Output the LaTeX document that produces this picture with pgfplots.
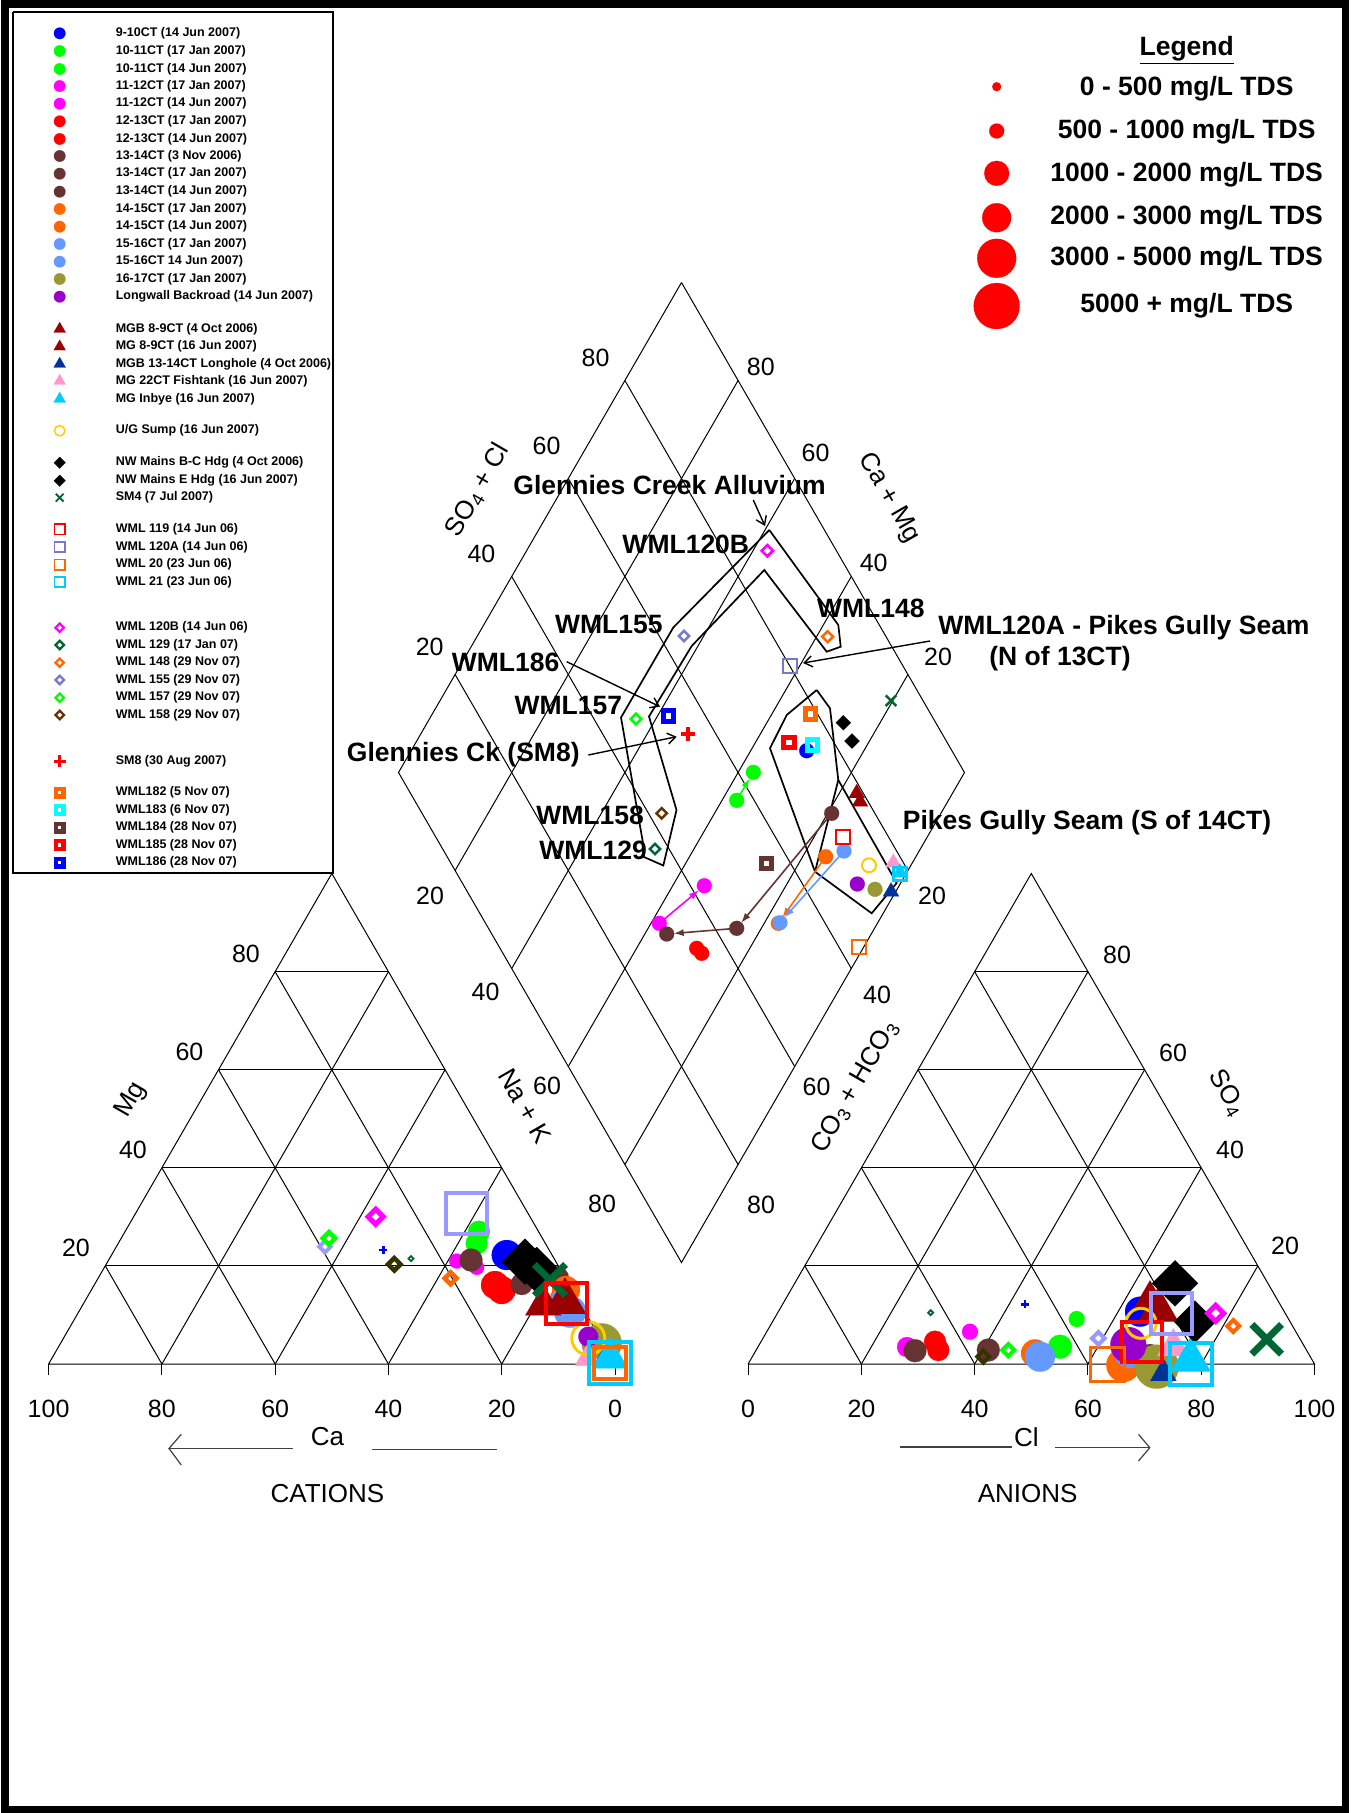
\documentclass[border=0pt]{standalone}
\usepackage{pgfplots}
\pgfplotsset{compat=1.18}
\usepackage{fontspec}
\setmainfont{Liberation Sans}
\usetikzlibrary{arrows.meta}
\definecolor{cBlue}{HTML}{0000FF}
\definecolor{cGreen}{HTML}{00FF00}
\definecolor{cMag}{HTML}{FF00FF}
\definecolor{cRed}{HTML}{FF0000}
\definecolor{cBrown}{HTML}{663333}
\definecolor{cOrange}{HTML}{FF6600}
\definecolor{cLBlue}{HTML}{6699FF}
\definecolor{cOlive}{HTML}{999933}
\definecolor{cPurple}{HTML}{9900CC}
\definecolor{cDRed}{HTML}{990000}
\definecolor{cDBlue}{HTML}{003399}
\definecolor{cPink}{HTML}{FF99CC}
\definecolor{cCyan}{HTML}{00CCFF}
\definecolor{cYellow}{HTML}{FFCC00}
\definecolor{cDGreen}{HTML}{006633}
\definecolor{cLav}{HTML}{7777CC}
\definecolor{cLav2}{HTML}{9999FF}
\definecolor{cAqua}{HTML}{00FFFF}
\definecolor{cBrownB}{HTML}{663300}
\definecolor{cDark}{HTML}{333300}
\pgfdeclareplotmark{dmd}{%
 \pgfpathmoveto{\pgfqpoint{0pt}{\pgfplotmarksize}}%
 \pgfpathlineto{\pgfqpoint{\pgfplotmarksize}{0pt}}%
 \pgfpathlineto{\pgfqpoint{0pt}{-\pgfplotmarksize}}%
 \pgfpathlineto{\pgfqpoint{-\pgfplotmarksize}{0pt}}%
 \pgfpathclose\pgfusepathqstroke}
\pgfdeclareplotmark{dmd*}{%
 \pgfpathmoveto{\pgfqpoint{0pt}{\pgfplotmarksize}}%
 \pgfpathlineto{\pgfqpoint{\pgfplotmarksize}{0pt}}%
 \pgfpathlineto{\pgfqpoint{0pt}{-\pgfplotmarksize}}%
 \pgfpathlineto{\pgfqpoint{-\pgfplotmarksize}{0pt}}%
 \pgfpathclose\pgfusepathqfillstroke}
\pgfdeclareplotmark{tri*}{%
 \pgfpathmoveto{\pgfqpoint{0pt}{1.1547\pgfplotmarksize}}%
 \pgfpathlineto{\pgfqpoint{\pgfplotmarksize}{-0.5774\pgfplotmarksize}}%
 \pgfpathlineto{\pgfqpoint{-\pgfplotmarksize}{-0.5774\pgfplotmarksize}}%
 \pgfpathclose\pgfusepathqfillstroke}
\newcommand\mk[5]{\addplot[#1,mark size=#2,mark options={line width=#3,solid}] coordinates {(#4,#5)};}
\newcommand\gseg[4]{\addplot[gl] coordinates {(#1,#2)(#3,#4)};}
\newcommand\tk{\fontsize{25}{28}\selectfont}
\newcommand\an{\fontsize{26.5}{30}\selectfont\bfseries}
\newcommand\lgf{\fontsize{12.5}{14}\selectfont\bfseries}
\newcommand\lab{\fontsize{26}{30}\selectfont}
\begin{document}
\begin{tikzpicture}
\useasboundingbox (0,0) rectangle (1356pt,1813pt);
\begin{axis}[x=1pt,y=1pt,y dir=reverse,xmin=0,xmax=1356,ymin=0,ymax=1813,
 hide axis,clip=false,at={(0pt,0pt)},anchor=south west,
 gl/.style={black,line width=1pt},
 pl/.style={black,line width=1.7pt},
 mC/.style={only marks,mark=*,color=#1},
 mT/.style={only marks,mark=tri*,color=#1},
 mS/.style={only marks,mark=square,color=#1},
 mD/.style={only marks,mark=dmd,color=#1},
 mBD/.style={only marks,mark=dmd*,color=black},
 mO/.style={only marks,mark=o,color=#1},
 mP/.style={only marks,mark=+,color=#1},
 mX/.style={only marks,mark=x,color=#1},
 ar/.style={line width=1.4pt,-{Straight Barb[length=8pt,width=11pt]}},
 car/.style={line width=1.6pt,-{Latex[length=10pt,width=7pt]},shorten >=7pt},
]
% outer frame
\addplot[black,line width=7.5pt,line join=miter] coordinates {(5,4)(1345.5,4)(1345.5,1809.5)(5,1809.5)(5,4)(200,4)};
% ---------- left triangle (cations)
\addplot[gl] coordinates {(48.6,1364)(615,1364)(331.8,873.5)(48.6,1364)};
\gseg{105.2}{1265.9}{558.4}{1265.9}
\gseg{161.9}{1167.8}{501.7}{1167.8}
\gseg{218.5}{1069.7}{445.1}{1069.7}
\gseg{275.2}{971.6}{388.4}{971.6}
\gseg{161.9}{1364}{388.5}{971.6}
\gseg{275.2}{1364}{445.1}{1069.7}
\gseg{388.4}{1364}{501.7}{1167.8}
\gseg{501.7}{1364}{558.3}{1265.9}
\gseg{161.9}{1364}{105.3}{1265.9}
\gseg{275.2}{1364}{161.9}{1167.8}
\gseg{388.4}{1364}{218.5}{1069.7}
\gseg{501.7}{1364}{275.1}{971.6}
\gseg{48.6}{1364}{48.6}{1375}
\gseg{161.9}{1364}{161.9}{1375}
\gseg{275.2}{1364}{275.2}{1375}
\gseg{388.4}{1364}{388.4}{1375}
\gseg{501.7}{1364}{501.7}{1375}
\gseg{615}{1364}{615}{1375}
% ---------- right triangle (anions)
\addplot[gl] coordinates {(748.1,1364)(1314.5,1364)(1031.3,873.5)(748.1,1364)};
\gseg{804.7}{1265.9}{1257.9}{1265.9}
\gseg{861.4}{1167.8}{1201.2}{1167.8}
\gseg{918.0}{1069.7}{1144.6}{1069.7}
\gseg{974.7}{971.6}{1087.9}{971.6}
\gseg{861.4}{1364}{1088.0}{971.6}
\gseg{974.7}{1364}{1144.6}{1069.7}
\gseg{1087.9}{1364}{1201.2}{1167.8}
\gseg{1201.2}{1364}{1257.8}{1265.9}
\gseg{861.4}{1364}{804.8}{1265.9}
\gseg{974.7}{1364}{861.4}{1167.8}
\gseg{1087.9}{1364}{918.0}{1069.7}
\gseg{1201.2}{1364}{974.6}{971.6}
\gseg{748.1}{1364}{748.1}{1375}
\gseg{861.4}{1364}{861.4}{1375}
\gseg{974.7}{1364}{974.7}{1375}
\gseg{1087.9}{1364}{1087.9}{1375}
\gseg{1201.2}{1364}{1201.2}{1375}
\gseg{1314.5}{1364}{1314.5}{1375}
% ---------- diamond
\addplot[gl] coordinates {(681.5,282.5)(964.5,772.5)(681.5,1262.5)(398.5,772.5)(681.5,282.5)};
\gseg{738.1}{380.5}{455.1}{870.5}
\gseg{794.7}{478.5}{511.7}{968.5}
\gseg{851.3}{576.5}{568.3}{1066.5}
\gseg{907.9}{674.5}{624.9}{1164.5}
\gseg{624.9}{380.5}{907.9}{870.5}
\gseg{568.3}{478.5}{851.3}{968.5}
\gseg{511.7}{576.5}{794.7}{1066.5}
\gseg{455.1}{674.5}{738.1}{1164.5}
% field outlines
\addplot[pl] coordinates {(769.3,530)(838.3,625)(840.7,646.7)(826.7,651.7)(764.3,570)(691.7,646)(649,716.5)(676.5,810)(663.3,865.5)(644,857)(643,843)(621,717.5)(673.3,627.5)(769.3,530)};
\addplot[pl] coordinates {(816.7,690)(830,708.3)(838.3,780)(896.7,883)(871.7,913.3)(815,871.7)(770,748.3)(786.7,715)(816.7,690)};
\addplot[pl] coordinates {(838.3,780)(815,871.7)};
% legend box
\addplot[black,line width=2pt,fill=white] coordinates {(12.7,11.7)(333,11.7)(333,873)(12.7,873)(12.7,11.7)};
% ---------- arrows between samples (diamond)
\addplot[cGreen,car] coordinates {(736.7,800.3)(753.3,772.3)};
\addplot[cMag,car] coordinates {(659.3,923.3)(704.3,885.7)};
\addplot[cBrown,car] coordinates {(831.7,813.3)(736.7,928.3)};
\addplot[cBrown,car] coordinates {(736.7,928.3)(666.7,934)};
\addplot[cOrange,car] coordinates {(825.7,856.7)(778.3,923.3)};
\addplot[cLBlue,car] coordinates {(844,851)(780,922.7)};
% ---------- samples: diamond / cations / anions
% 9-10CT
\mk{mC=cBlue}{7.5}{0.1pt}{806.7}{750.7}
\mk{mC=cBlue}{15}{0.1pt}{506.7}{1255}
\mk{mC=cBlue}{15}{0.1pt}{1140}{1311.7}
% 10-11CT Jan
\mk{mC=cGreen}{7.5}{0.1pt}{736.7}{800.3}
\mk{mC=cGreen}{11}{0.1pt}{476.7}{1243.3}
\mk{mC=cGreen}{12}{0.1pt}{1060}{1346.7}
% 10-11CT Jun
\mk{mC=cGreen}{7.5}{0.1pt}{753.3}{772.3}
\mk{mC=cGreen}{11}{0.1pt}{479}{1231.7}
\mk{mC=cGreen}{8}{0.1pt}{1076.7}{1319}
% 11-12CT Jan
\mk{mC=cMag}{7.5}{0.1pt}{659.3}{923.3}
\mk{mC=cMag}{7.5}{0.1pt}{456.7}{1261}
\mk{mC=cMag}{8}{0.1pt}{970}{1331.7}
% 11-12CT Jun
\mk{mC=cMag}{7.5}{0.1pt}{704.3}{885.7}
\mk{mC=cMag}{7.5}{0.1pt}{476.7}{1267.3}
\mk{mC=cMag}{10}{0.1pt}{907}{1347}
% 12-13CT Jan
\mk{mC=cRed}{7.5}{0.1pt}{696.7}{948.3}
\mk{mC=cRed}{14}{0.1pt}{495}{1285}
\mk{mC=cRed}{11}{0.1pt}{935}{1341.7}
% 12-13CT Jun
\mk{mC=cRed}{7.5}{0.1pt}{701.7}{953.3}
\mk{mC=cRed}{14}{0.1pt}{501.7}{1290}
\mk{mC=cRed}{11}{0.1pt}{938.3}{1350}
% 13-14CT Nov
\mk{mC=cBrown}{7.5}{0.1pt}{831.7}{813.3}
\mk{mC=cBrown}{11}{0.1pt}{558}{1278}
\mk{mC=cBrown}{11}{0.1pt}{1150}{1355}
% 13-14CT Jan
\mk{mC=cBrown}{7.5}{0.1pt}{736.7}{928.3}
\mk{mC=cBrown}{11}{0.1pt}{521.7}{1284}
\mk{mC=cBrown}{11.5}{0.1pt}{915}{1350.7}
% 13-14CT Jun
\mk{mC=cBrown}{7.5}{0.1pt}{666.7}{934}
\mk{mC=cBrown}{11.5}{0.1pt}{471}{1260}
\mk{mC=cBrown}{11.5}{0.1pt}{988.3}{1350}
% 14-15CT Jan
\mk{mC=cOrange}{7.5}{0.1pt}{825.7}{856.7}
\mk{mC=cOrange}{14}{0.1pt}{566}{1290}
\mk{mC=cOrange}{17}{0.1pt}{1123.3}{1365}
% 14-15CT Jun
\mk{mC=cOrange}{7.5}{0.1pt}{778.3}{923.3}
\mk{mC=cOrange}{10}{0.1pt}{560}{1298}
\mk{mC=cOrange}{14}{0.1pt}{1035}{1353.3}
% 15-16CT Jan
\mk{mC=cLBlue}{7.5}{0.1pt}{844}{851}
\mk{mC=cLBlue}{16}{0.1pt}{570}{1311.7}
\mk{mC=cLBlue}{16}{0.1pt}{1130}{1352}
% 15-16CT Jun
\mk{mC=cLBlue}{7.5}{0.1pt}{780}{922.7}
\mk{mC=cLBlue}{12}{0.1pt}{563}{1300}
\mk{mC=cLBlue}{15}{0.1pt}{1040}{1356.7}
% 16-17CT
\mk{mC=cOlive}{7.5}{0.1pt}{875}{889.3}
\mk{mC=cOlive}{20}{0.1pt}{601.7}{1343.3}
\mk{mC=cOlive}{22}{0.1pt}{1156.7}{1366.7}
% Longwall Backroad
\mk{mC=cPurple}{7.5}{0.1pt}{857.3}{884}
\mk{mC=cPurple}{10}{0.1pt}{588.3}{1336.7}
\mk{mC=cPurple}{18}{0.1pt}{1128.3}{1345}
% MGB 8-9CT
\mk{mT=cDRed}{8}{0.1pt}{856.7}{793.3}
\mk{mT=cDRed}{21}{0.1pt}{565}{1301.7}
\mk{mT=cDRed}{20}{0.1pt}{1158.3}{1310}
% MG 8-9CT
\mk{mT=cDRed}{8}{0.1pt}{860}{801.7}
\mk{mT=cDRed}{18}{0.1pt}{543.3}{1305}
\mk{mT=cDRed}{17}{0.1pt}{1150}{1300}
% MGB 13-14CT Longhole
\mk{mT=cDBlue}{8}{0.1pt}{891}{891.7}
\mk{mT=cDBlue}{13}{0.1pt}{605}{1360}
\mk{mT=cDBlue}{13}{0.1pt}{1163.3}{1373.3}
% MG 22CT Fishtank
\mk{mT=cPink}{8}{0.1pt}{893.3}{862.7}
\mk{mT=cPink}{13}{0.1pt}{588}{1358}
\mk{mT=cPink}{16}{0.1pt}{1173.3}{1346.7}
% MG Inbye
\mk{mT=cCyan}{8}{0.1pt}{900}{872.7}
\mk{mT=cCyan}{18}{0.1pt}{610}{1358}
\mk{mT=cCyan}{20}{0.1pt}{1190.7}{1360}
% U/G Sump
\mk{mO=cYellow}{7}{2pt}{869}{865.3}
\mk{mO=cYellow}{16.5}{3pt}{588.3}{1338.3}
\mk{mO=cYellow}{15}{3pt}{1141}{1323.3}
% NW Mains B-C Hdg
\mk{mBD}{7.5}{0.1pt}{843.3}{722.7}
\mk{mBD}{23}{0.1pt}{525}{1261.7}
\mk{mBD}{23}{0.1pt}{1175}{1283.3}
% NW Mains E Hdg
\mk{mBD}{7.5}{0.1pt}{852}{741}
\mk{mBD}{23}{0.1pt}{536.7}{1270}
\mk{mBD}{21}{0.1pt}{1195}{1321.7}
% SM4
\mk{mX=cDGreen}{7.5}{2.5pt}{891}{700.7}
\mk{mX=cDGreen}{22}{7pt}{550}{1280}
\mk{mX=cDGreen}{21}{7pt}{1266.7}{1339.3}
% WML 119
\mk{mS=cRed}{7}{1.8pt}{842.7}{836.7}
\mk{mS=cRed}{20.5}{4pt}{566}{1303.3}
\mk{mS=cRed}{20}{4pt}{1141.7}{1341.7}
% WML 120A
\mk{mS=cLav}{7}{1.8pt}{790}{666}
\mk{mS=cLav2}{20.5}{3.5pt}{466.7}{1213.3}
\mk{mS=cLav2}{20.5}{3.5pt}{1171.7}{1313.3}
% WML 20
\mk{mS=cOrange}{7}{1.8pt}{859}{946.7}
\mk{mS=cOrange}{16}{4pt}{610}{1362.7}
\mk{mS=cOrange}{17}{3.5pt}{1107.7}{1364.3}
% WML 21
\mk{mS=cCyan}{6.5}{2.5pt}{900}{874}
\mk{mS=cCyan}{21}{4pt}{610}{1362.7}
\mk{mS=cCyan}{21}{4pt}{1190.7}{1364}
% WML 120B
\mk{mD=cMag}{5.6}{2.7pt}{767.3}{550.7}
\mk{mD=cMag}{7.5}{5pt}{375.7}{1216.7}
\mk{mD=cMag}{8}{5pt}{1215.7}{1313.3}
% WML 129
\mk{mD=cDGreen}{5.2}{2.5pt}{655}{849}
\mk{mD=cDGreen}{2.5}{1.8pt}{411}{1258.7}
\mk{mD=cDGreen}{2.5}{1.8pt}{930.7}{1312.7}
% WML 148
\mk{mD=cOrange}{5.4}{2.6pt}{827.7}{636.7}
\mk{mD=cOrange}{6}{4.5pt}{450.7}{1278.3}
\mk{mD=cOrange}{6}{4pt}{1233.3}{1326}
% WML 155
\mk{mD=cLav}{5.2}{2.5pt}{684}{636}
\mk{mD=cLav2}{5.7}{4pt}{325}{1246.7}
\mk{mD=cLav2}{6.3}{4pt}{1098.3}{1338.3}
% WML 157
\mk{mD=cGreen}{5.2}{2.6pt}{636}{719}
\mk{mD=cGreen}{6.2}{4.5pt}{329}{1238.3}
\mk{mD=cGreen}{6}{4pt}{1008.3}{1350}
% WML 158
\mk{mD=cBrownB}{5.2}{2.5pt}{661.7}{813.3}
\mk{mD=cDark}{6.2}{4.5pt}{394.3}{1264.3}
\mk{mD=cDark}{6}{4pt}{983.3}{1356.7}
% SM8
\mk{mP=cRed}{7}{4pt}{688.3}{734}
\mk{mP=cBlue}{4}{2.5pt}{383.3}{1250}
\mk{mP=cBlue}{4}{2.5pt}{1025}{1304.3}
% WML182-186
\mk{mS=cOrange}{5.2}{5pt}{810.7}{714}
\mk{mS=cAqua}{5.2}{5pt}{812.3}{745}
\mk{mS=cBrown}{5.2}{5pt}{766.7}{863.3}
\mk{mS=cRed}{5.2}{5pt}{789}{742.7}
\mk{mS=cBlue}{5.2}{5pt}{668.3}{716}
% ---------- annotations
\addplot[black,ar] coordinates {(753.3,500)(765,526)};
\addplot[black,ar] coordinates {(930,641)(803,663)};
\addplot[black,ar] coordinates {(566.7,661.7)(660,706.7)};
\addplot[black,ar] coordinates {(588.3,755)(676.7,736.7)};
\node at (axis cs:669.6,485) {\an Glennies Creek Alluvium};
\node at (axis cs:685.8,544) {\an WML120B};
\node at (axis cs:870.8,608.3) {\an WML148};
\node at (axis cs:608.8,625) {\an WML155};
\node at (axis cs:505.5,662.7) {\an WML186};
\node at (axis cs:568.3,705.7) {\an WML157};
\node at (axis cs:463.3,755) {\an Glennies Ck (SM8)};
\node at (axis cs:590,815.7) {\an WML158};
\node at (axis cs:593,850) {\an WML129};
\node at (axis cs:1124,628) {\an WML120A - Pikes Gully Seam};
\node at (axis cs:1060,659) {\an (N of 13CT)};
\node at (axis cs:1087,823) {\an Pikes Gully Seam (S of 14CT)};
% diamond edge labels
\node at (axis cs:595.5,358.3) {\tk 80};
\node at (axis cs:546.5,446) {\tk 60};
\node at (axis cs:481.4,554) {\tk 40};
\node at (axis cs:429.7,646.7) {\tk 20};
\node at (axis cs:760.8,367.3) {\tk 80};
\node at (axis cs:815.5,452.7) {\tk 60};
\node at (axis cs:873.7,563.3) {\tk 40};
\node at (axis cs:938,657) {\tk 20};
\node at (axis cs:430,896) {\tk 20};
\node at (axis cs:485.5,992) {\tk 40};
\node at (axis cs:547,1085.5) {\tk 60};
\node at (axis cs:602,1204) {\tk 80};
\node at (axis cs:932,896) {\tk 20};
\node at (axis cs:877,995) {\tk 40};
\node at (axis cs:816.5,1086.5) {\tk 60};
\node at (axis cs:761,1205) {\tk 80};
\node[rotate=60] at (axis cs:477.6,490) {\lab SO\textsubscript{4} + Cl};
\node[rotate=-60] at (axis cs:889,498) {\lab Ca + Mg};
\node[rotate=-60] at (axis cs:525,1106) {\lab Na + K};
\node[rotate=60] at (axis cs:855,1087) {\lab CO\textsubscript{3} + HCO\textsubscript{3}};
% left triangle labels
\node at (axis cs:76,1248) {\tk 20};
\node at (axis cs:133,1150) {\tk 40};
\node at (axis cs:189.5,1052) {\tk 60};
\node at (axis cs:246,954) {\tk 80};
\node[rotate=60] at (axis cs:131,1100) {\lab Mg};
\node at (axis cs:48.6,1409.3) {\tk 100};
\node at (axis cs:161.9,1409.3) {\tk 80};
\node at (axis cs:275.2,1409.3) {\tk 60};
\node at (axis cs:388.4,1409.3) {\tk 40};
\node at (axis cs:501.7,1409.3) {\tk 20};
\node at (axis cs:615,1409.3) {\tk 0};
\node at (axis cs:327.4,1436.7) {\lab Ca};
\addplot[black!75,line width=1.2pt] coordinates {(169,1448.5)(292.7,1448.5)};
\addplot[black!75,line width=1.2pt] coordinates {(181.3,1434.3)(169,1448.5)(181.3,1465)};
\addplot[black!75,line width=1.2pt] coordinates {(372,1449.3)(496.5,1449.3)};
\node at (axis cs:327.4,1494) {\lab CATIONS};
% right triangle labels
\node at (axis cs:1285,1246) {\tk 20};
\node at (axis cs:1230,1150) {\tk 40};
\node at (axis cs:1173,1053) {\tk 60};
\node at (axis cs:1117,955) {\tk 80};
\node[rotate=-60] at (axis cs:1227,1093) {\lab SO\textsubscript{4}};
\node at (axis cs:748.1,1409.3) {\tk 0};
\node at (axis cs:861.4,1409.3) {\tk 20};
\node at (axis cs:974.7,1409.3) {\tk 40};
\node at (axis cs:1087.9,1409.3) {\tk 60};
\node at (axis cs:1201.2,1409.3) {\tk 80};
\node at (axis cs:1314.5,1409.3) {\tk 100};
\node at (axis cs:1026.4,1436.7) {\lab Cl};
\addplot[black!75,line width=1.2pt] coordinates {(900,1447)(1011.7,1447)};
\addplot[black!75,line width=1.2pt] coordinates {(1054.8,1447.7)(1149.8,1447.7)};
\addplot[black!75,line width=1.2pt] coordinates {(1138.5,1434.3)(1149.8,1447.7)(1138.5,1461)};
\node at (axis cs:1027.6,1494) {\lab ANIONS};
% ---------- TDS legend
\node at (axis cs:1186.7,50) {\an \underline{Legend}};
\mk{mC=cRed}{4.5}{0.1pt}{996.7}{86.7}
\mk{mC=cRed}{7.5}{0.1pt}{996.7}{131}
\mk{mC=cRed}{12.5}{0.1pt}{996.7}{173.3}
\mk{mC=cRed}{14.5}{0.1pt}{996.7}{217.7}
\mk{mC=cRed}{19.5}{0.1pt}{996.7}{258.3}
\mk{mC=cRed}{23}{0.1pt}{996.7}{306}
\node at (axis cs:1186.7,88.3) {\an 0 - 500 mg/L TDS};
\node at (axis cs:1186.7,131.7) {\an 500 - 1000 mg/L TDS};
\node at (axis cs:1186.7,174.3) {\an 1000 - 2000 mg/L TDS};
\node at (axis cs:1186.7,217.7) {\an 2000 - 3000 mg/L TDS};
\node at (axis cs:1186.7,258.3) {\an 3000 - 5000 mg/L TDS};
\node at (axis cs:1186.7,306) {\an 5000 + mg/L TDS};
% ---------- sample legend
\mk{mC=cBlue}{5.8}{0.1pt}{59.7}{33.3}
\mk{mC=cGreen}{5.8}{0.1pt}{59.7}{51}
\mk{mC=cGreen}{5.8}{0.1pt}{59.7}{69}
\mk{mC=cMag}{5.8}{0.1pt}{59.7}{86}
\mk{mC=cMag}{5.8}{0.1pt}{59.7}{103.7}
\mk{mC=cRed}{5.8}{0.1pt}{59.7}{121.3}
\mk{mC=cRed}{5.8}{0.1pt}{59.7}{139}
\mk{mC=cBrown}{5.8}{0.1pt}{59.7}{156}
\mk{mC=cBrown}{5.8}{0.1pt}{59.7}{173.7}
\mk{mC=cBrown}{5.8}{0.1pt}{59.7}{191.7}
\mk{mC=cOrange}{5.8}{0.1pt}{59.7}{209}
\mk{mC=cOrange}{5.8}{0.1pt}{59.7}{226.7}
\mk{mC=cLBlue}{5.8}{0.1pt}{59.7}{244}
\mk{mC=cLBlue}{5.8}{0.1pt}{59.7}{261.7}
\mk{mC=cOlive}{5.8}{0.1pt}{59.7}{279}
\mk{mC=cPurple}{5.8}{0.1pt}{59.7}{296.7}
\mk{mT=cDRed}{6}{0.1pt}{59.7}{329}
\mk{mT=cDRed}{6}{0.1pt}{59.7}{346.7}
\mk{mT=cDBlue}{6}{0.1pt}{59.7}{364}
\mk{mT=cPink}{6}{0.1pt}{59.7}{381}
\mk{mT=cCyan}{6}{0.1pt}{59.7}{399}
\mk{mO=cYellow}{5.2}{1.5pt}{59.7}{430.7}
\mk{mBD}{5.8}{0.1pt}{59.7}{462.7}
\mk{mBD}{5.8}{0.1pt}{59.7}{480.7}
\mk{mX=cDGreen}{5.5}{1.8pt}{59.7}{497.7}
\mk{mS=cRed}{5.1}{1.5pt}{59.7}{529.3}
\mk{mS=cLav}{5.1}{1.5pt}{59.7}{547}
\mk{mS=cOrange}{5.1}{1.5pt}{59.7}{564.7}
\mk{mS=cCyan}{5.1}{1.5pt}{59.7}{582}
\mk{mD=cMag}{4.2}{2.3pt}{59.7}{627.7}
\mk{mD=cDGreen}{4.2}{2.3pt}{59.7}{645}
\mk{mD=cOrange}{4.2}{2.3pt}{59.7}{662.7}
\mk{mD=cLav}{4.2}{2.3pt}{59.7}{680}
\mk{mD=cGreen}{4.2}{2.3pt}{59.7}{697.7}
\mk{mD=cBrownB}{4.2}{2.3pt}{59.7}{715}
\mk{mP=cRed}{6}{3pt}{59.7}{761}
\mk{mS=cOrange}{3.75}{4.2pt}{59.7}{792.7}
\mk{mS=cAqua}{3.75}{4.2pt}{59.7}{810}
\mk{mS=cBrown}{3.75}{4.2pt}{59.7}{827.7}
\mk{mS=cRed}{3.75}{4.2pt}{59.7}{845}
\mk{mS=cBlue}{3.75}{4.2pt}{59.7}{862.7}
\begin{scope}[every node/.style={anchor=west}]
\node at (axis cs:112.3,33.3) {\lgf 9-10CT (14 Jun 2007)};
\node at (axis cs:112.3,51) {\lgf 10-11CT (17 Jan 2007)};
\node at (axis cs:112.3,69) {\lgf 10-11CT (14 Jun 2007)};
\node at (axis cs:112.3,86) {\lgf 11-12CT (17 Jan 2007)};
\node at (axis cs:112.3,103.7) {\lgf 11-12CT (14 Jun 2007)};
\node at (axis cs:112.3,121.3) {\lgf 12-13CT (17 Jan 2007)};
\node at (axis cs:112.3,139) {\lgf 12-13CT (14 Jun 2007)};
\node at (axis cs:112.3,156) {\lgf 13-14CT (3 Nov 2006)};
\node at (axis cs:112.3,173.7) {\lgf 13-14CT (17 Jan 2007)};
\node at (axis cs:112.3,191.7) {\lgf 13-14CT (14 Jun 2007)};
\node at (axis cs:112.3,209) {\lgf 14-15CT (17 Jan 2007)};
\node at (axis cs:112.3,226.7) {\lgf 14-15CT (14 Jun 2007)};
\node at (axis cs:112.3,244) {\lgf 15-16CT (17 Jan 2007)};
\node at (axis cs:112.3,261.7) {\lgf 15-16CT 14 Jun 2007)};
\node at (axis cs:112.3,279) {\lgf 16-17CT (17 Jan 2007)};
\node at (axis cs:112.3,296.7) {\lgf Longwall Backroad (14 Jun 2007)};
\node at (axis cs:112.3,329) {\lgf MGB 8-9CT (4 Oct 2006)};
\node at (axis cs:112.3,346.7) {\lgf MG 8-9CT (16 Jun 2007)};
\node at (axis cs:112.3,364) {\lgf MGB 13-14CT Longhole (4 Oct 2006)};
\node at (axis cs:112.3,381) {\lgf MG 22CT Fishtank (16 Jun 2007)};
\node at (axis cs:112.3,399) {\lgf MG Inbye (16 Jun 2007)};
\node at (axis cs:112.3,430.7) {\lgf U/G Sump (16 Jun 2007)};
\node at (axis cs:112.3,462.7) {\lgf NW Mains B-C Hdg (4 Oct 2006)};
\node at (axis cs:112.3,480.7) {\lgf NW Mains E Hdg (16 Jun 2007)};
\node at (axis cs:112.3,497.7) {\lgf SM4 (7 Jul 2007)};
\node at (axis cs:112.3,529.3) {\lgf WML 119 (14 Jun 06)};
\node at (axis cs:112.3,547) {\lgf WML 120A (14 Jun 06)};
\node at (axis cs:112.3,564.7) {\lgf WML 20 (23 Jun 06)};
\node at (axis cs:112.3,582) {\lgf WML 21 (23 Jun 06)};
\node at (axis cs:112.3,627.7) {\lgf WML 120B (14 Jun 06)};
\node at (axis cs:112.3,645) {\lgf WML 129 (17 Jan 07)};
\node at (axis cs:112.3,662.7) {\lgf WML 148 (29 Nov 07)};
\node at (axis cs:112.3,680) {\lgf WML 155 (29 Nov 07)};
\node at (axis cs:112.3,697.7) {\lgf WML 157 (29 Nov 07)};
\node at (axis cs:112.3,715) {\lgf WML 158 (29 Nov 07)};
\node at (axis cs:112.3,761) {\lgf SM8 (30 Aug 2007)};
\node at (axis cs:112.3,792.7) {\lgf WML182 (5 Nov 07)};
\node at (axis cs:112.3,810) {\lgf WML183 (6 Nov 07)};
\node at (axis cs:112.3,827.7) {\lgf WML184 (28 Nov 07)};
\node at (axis cs:112.3,845) {\lgf WML185 (28 Nov 07)};
\node at (axis cs:112.3,862.7) {\lgf WML186 (28 Nov 07)};
\end{scope}
\end{axis}
\end{tikzpicture}
\end{document}
